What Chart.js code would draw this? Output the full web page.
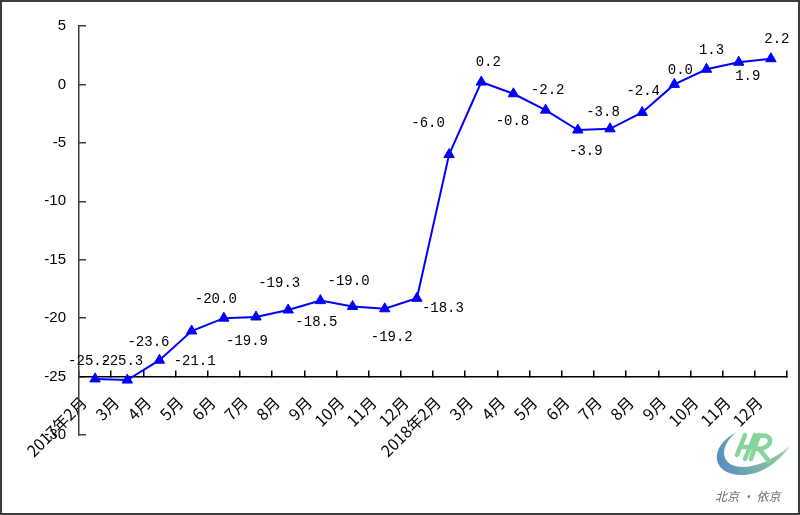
<!DOCTYPE html>
<html lang="zh-CN">
<head>
    <meta charset="UTF-8">
    <title>同比增速</title>
    <script src="https://cdn.jsdelivr.net/npm/chart.js"></script>
    <style>
        body {
            margin: 0;
            background-color: #ffffff;
        }

        .chart-box {
            width: 800px;
            height: 515px;
            box-sizing: border-box;
            border: 2px solid #3c3c3c;
            background-color: #ffffff;
        }

        #chart {
            display: block;
        }
    </style>
</head>
<body>
    <div class="chart-box">
        <canvas id="chart" width="796" height="511"></canvas>
    </div>

    <script>
        // 月份（横轴）
        const months = [
            '2017年2月', '3月', '4月', '5月', '6月', '7月', '8月', '9月', '10月', '11月', '12月',
            '2018年2月', '3月', '4月', '5月', '6月', '7月', '8月', '9月', '10月', '11月', '12月'
        ];

        // 累计增速（%）
        const growth = [
            -25.2, -25.3, -23.6, -21.1, -20.0, -19.9, -19.3, -18.5, -19.0, -19.2, -18.3,
            -6.0, 0.2, -0.8, -2.2, -3.9, -3.8, -2.4, 0.0, 1.3, 1.9, 2.2
        ];

        // 纵轴刻度
        const yMin = -30;
        const yMax = 5;
        const yStep = 5;

        // 数据标签相对于数据点的偏移（像素）
        const labelShift = [
            [-6, -18], [-5, -19], [-11, -18], [3, 30], [-8, -19], [-9, 24],
            [-9, -27], [-4, 22], [-4, -25], [7, 29], [26, 10],
            [-21, -31], [7, -20], [-1, 28], [2, -20], [8, 21], [-7, -17],
            [1, -21], [6, -14], [5, -19], [9, 14], [6, -19]
        ];

        // 数据标签
        const valueLabels = {
            id: 'valueLabels',
            afterDatasetsDraw(chart) {
                const ctx = chart.ctx;
                const meta = chart.getDatasetMeta(0);
                ctx.save();
                ctx.font = '14px "Liberation Mono", monospace';
                ctx.fillStyle = '#000000';
                ctx.textAlign = 'center';
                ctx.textBaseline = 'middle';
                meta.data.forEach((pt, i) => {
                    const s = labelShift[i];
                    ctx.fillText(growth[i].toFixed(1), pt.x + s[0], pt.y + s[1]);
                });
                ctx.restore();
            }
        };

        // 右下角标志
        const logoMark = {
            id: 'logoMark',
            afterDraw(chart) {
                const ctx = chart.ctx;
                ctx.save();
                // 弧形
                const grad = ctx.createLinearGradient(712, 470, 788, 440);
                grad.addColorStop(0, '#4f86c6');
                grad.addColorStop(0.6, '#7fb7a8');
                grad.addColorStop(1, '#9ed39a');
                ctx.fillStyle = grad;
                ctx.beginPath();
                ctx.moveTo(735, 430);
                ctx.bezierCurveTo(706, 444, 708, 474, 742, 473);
                ctx.bezierCurveTo(762, 472, 778, 458, 788, 444);
                ctx.bezierCurveTo(772, 457, 756, 465, 740, 465);
                ctx.bezierCurveTo(716, 464, 718, 442, 735, 430);
                ctx.fill();
                // 字母
                ctx.strokeStyle = '#86d49a';
                ctx.lineWidth = 4.5;
                ctx.lineCap = 'round';
                ctx.beginPath();
                ctx.moveTo(743, 433);
                ctx.lineTo(735, 453);
                ctx.moveTo(753, 433);
                ctx.lineTo(743, 457);
                ctx.moveTo(739, 445);
                ctx.lineTo(751, 445);
                ctx.moveTo(757, 433);
                ctx.lineTo(749, 457);
                ctx.moveTo(757, 434);
                ctx.bezierCurveTo(773, 431, 771, 447, 755, 447);
                ctx.moveTo(757, 447);
                ctx.lineTo(767, 459);
                ctx.stroke();
                // 文字
                ctx.font = 'italic 12px "Noto Sans CJK SC", sans-serif';
                ctx.fillStyle = '#6a6a6a';
                ctx.textAlign = 'left';
                ctx.textBaseline = 'middle';
                ctx.fillText('北京 · 依京', 713, 494);
                ctx.restore();
            }
        };

        new Chart(document.getElementById('chart'), {
            type: 'line',
            data: {
                labels: months,
                datasets: [{
                    data: growth,
                    borderColor: '#0000ff',
                    backgroundColor: '#0000ff',
                    borderWidth: 2,
                    tension: 0,
                    pointStyle: 'triangle',
                    pointRadius: 6,
                    pointHoverRadius: 6,
                    pointBorderWidth: 1
                }]
            },
            options: {
                responsive: false,
                animation: false,
                events: [],
                layout: {
                    padding: { top: 24, right: 11, bottom: 78, left: 0 }
                },
                plugins: {
                    legend: { display: false },
                    tooltip: { enabled: false }
                },
                scales: {
                    x: {
                        type: 'category',
                        offset: true,
                        position: { y: -25 },
                        afterFit(scale) {
                            scale.paddingLeft = 0;
                            scale.paddingRight = 0;
                        },
                        grid: {
                            offset: true,
                            drawOnChartArea: false,
                            drawTicks: true,
                            tickLength: -7,
                            color: '#000000',
                            lineWidth: 1.5
                        },
                        border: { color: '#000000', width: 1.5 },
                        ticks: {
                            autoSkip: false,
                            maxRotation: 45,
                            minRotation: 45,
                            padding: 12,
                            color: '#000000',
                            font: { family: '"Noto Sans CJK SC", sans-serif', size: 16 },
                            // 末尾加全角空格，让斜排标签略向左下
                            callback(value, index) {
                                return months[index] + '\u3000';
                            }
                        }
                    },
                    y: {
                        min: yMin,
                        max: yMax,
                        position: 'left',
                        afterFit(scale) {
                            scale.width = 77;
                            scale.paddingTop = 0;
                            scale.paddingBottom = 0;
                        },
                        grid: {
                            drawOnChartArea: false,
                            drawTicks: true,
                            tickLength: -7,
                            color: '#3c3c3c',
                            lineWidth: 1.5
                        },
                        border: { color: '#3c3c3c', width: 1.5 },
                        ticks: {
                            stepSize: yStep,
                            padding: 20,
                            color: '#000000',
                            font: { family: '"Liberation Sans", Arial, sans-serif', size: 15 }
                        }
                    }
                }
            },
            plugins: [valueLabels, logoMark]
        });
    </script>
</body>
</html>
